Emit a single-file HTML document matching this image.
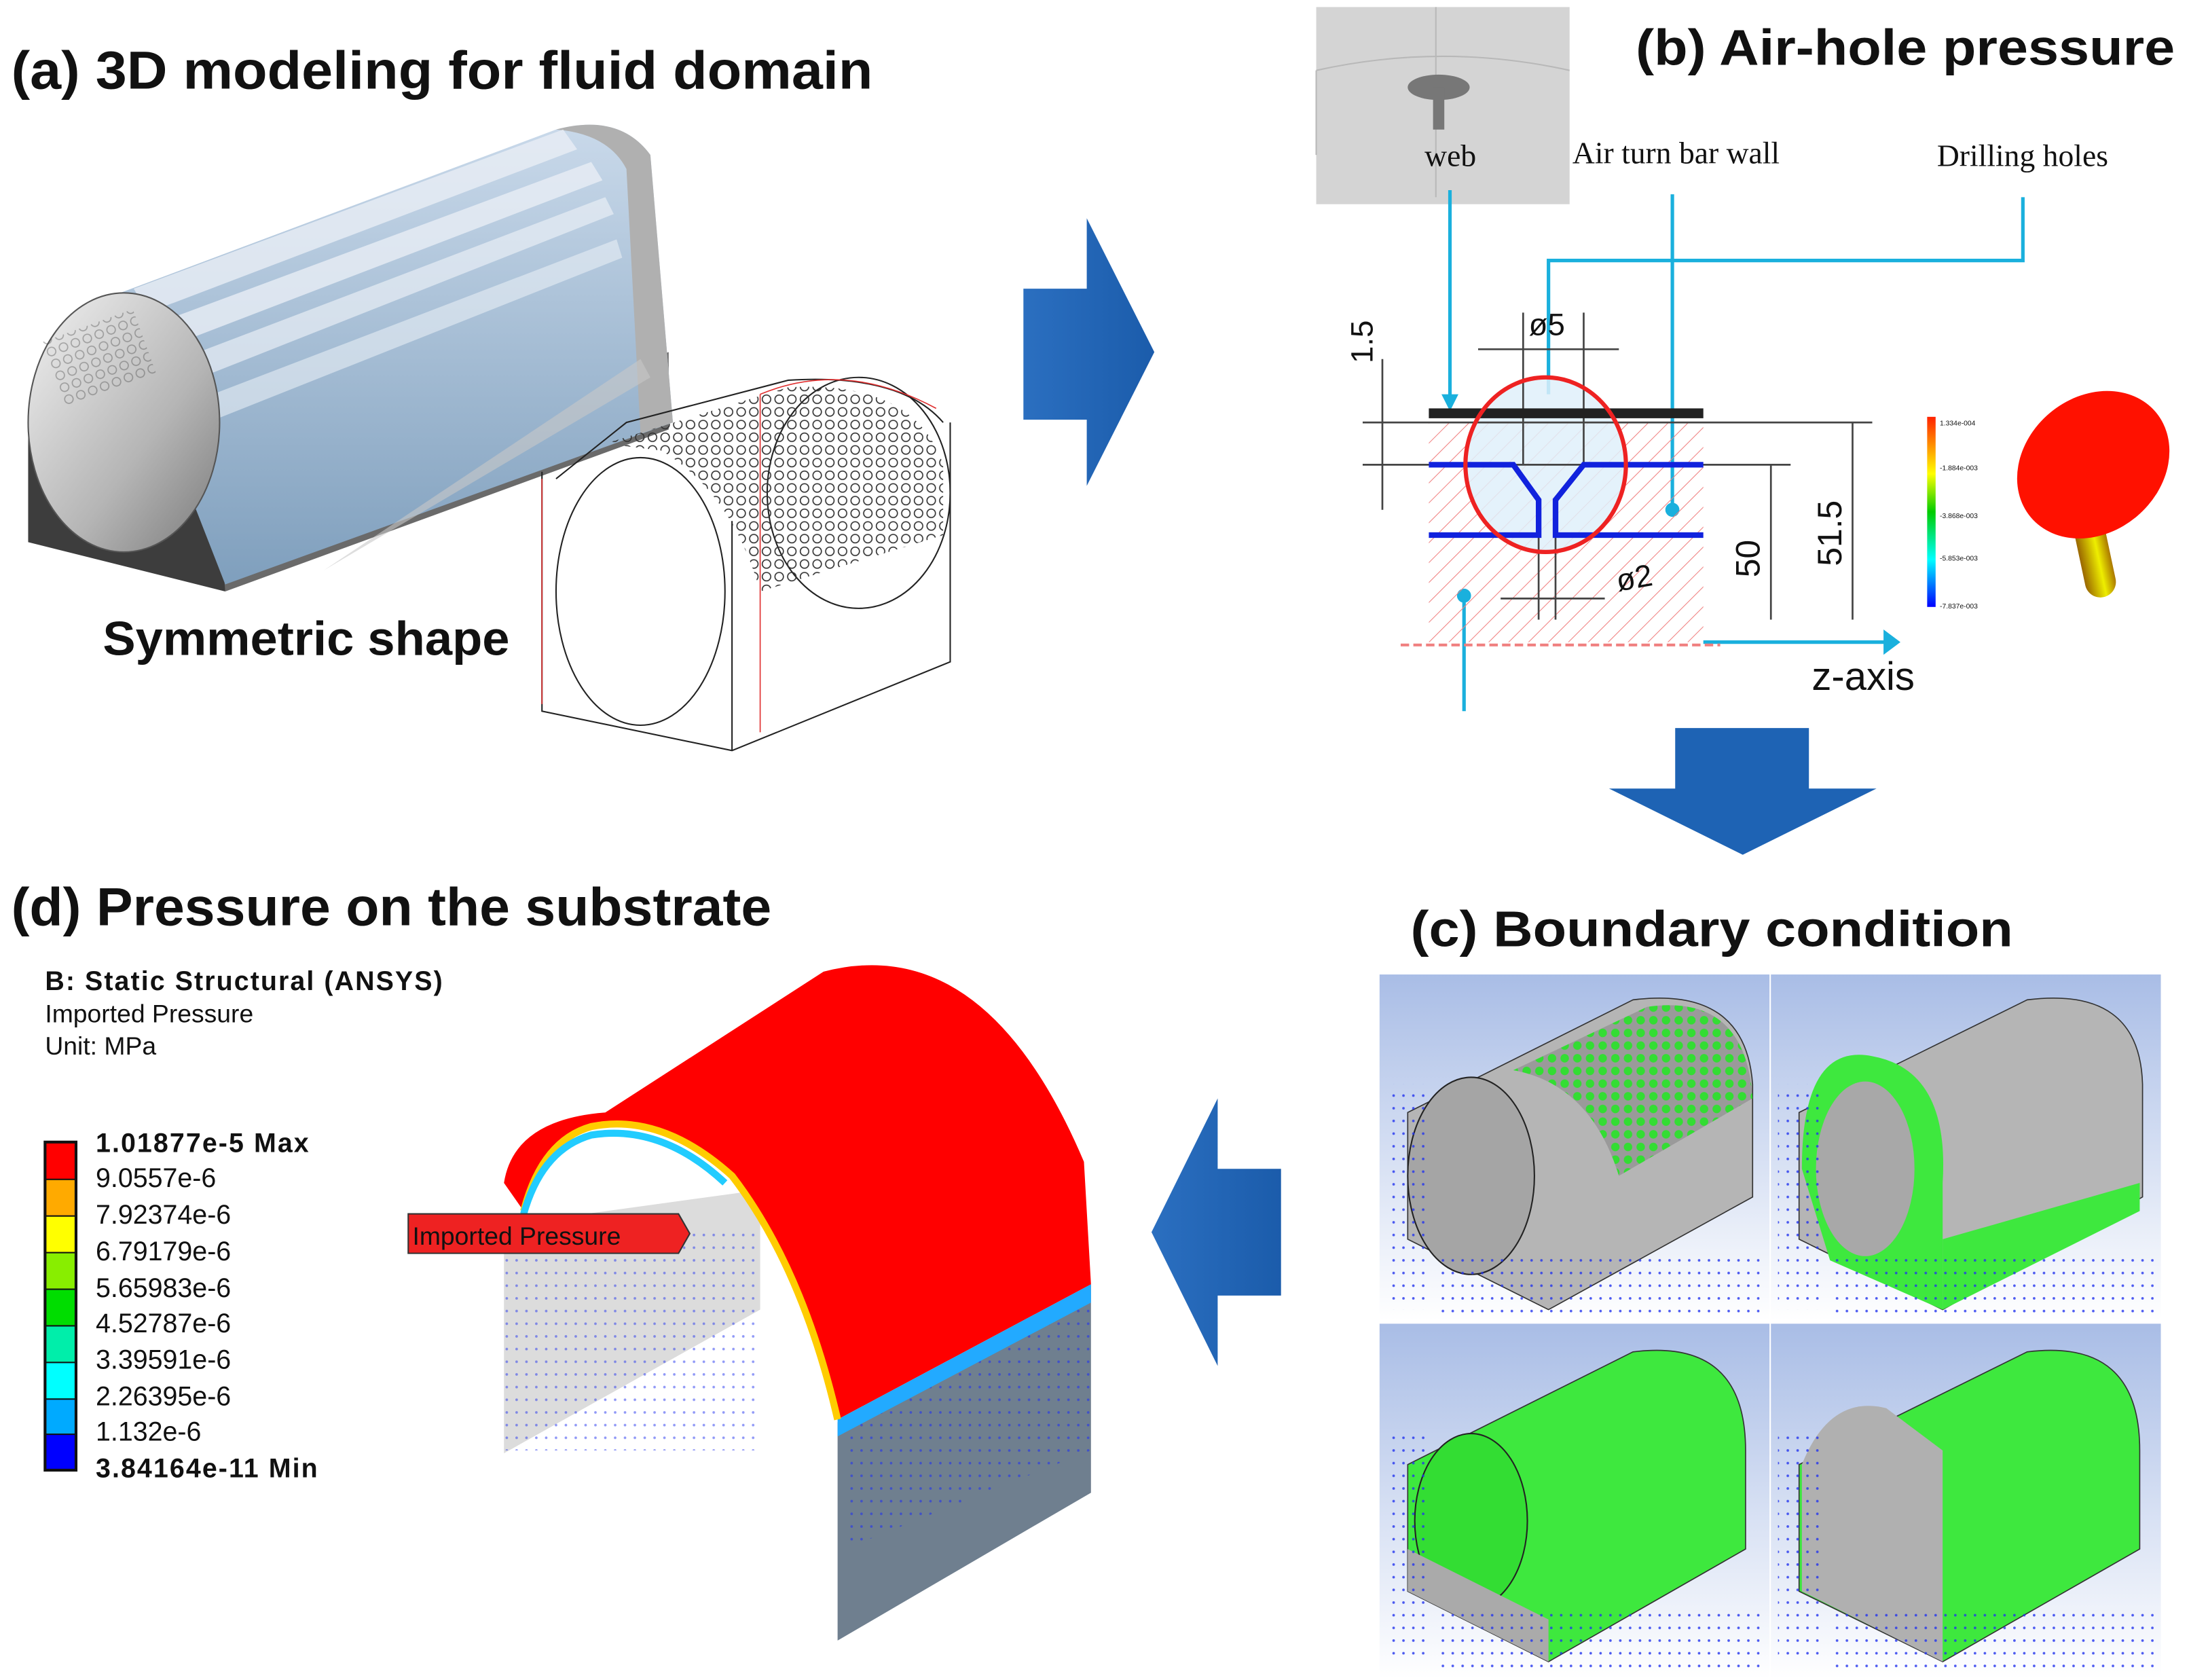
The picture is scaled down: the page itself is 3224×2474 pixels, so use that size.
<!DOCTYPE html>
<html><head><meta charset="utf-8">
<style>
html,body{margin:0;padding:0;background:#fff;}
svg{display:block;}
.t{font-family:"Liberation Sans",sans-serif;font-weight:bold;fill:#111;}
.s{font-family:"Liberation Serif",serif;fill:#111;}
.m{font-family:"Liberation Sans",sans-serif;fill:#111;}
</style></head><body>
<svg width="3224" height="2474" viewBox="0 0 1555 1193" preserveAspectRatio="none" xmlns="http://www.w3.org/2000/svg">
<defs>
<linearGradient id="cap" x1="0" y1="0" x2="1" y2="1"><stop offset="0" stop-color="#f2f2f2"/><stop offset="0.6" stop-color="#b5b5b5"/><stop offset="1" stop-color="#7a7a7a"/></linearGradient>
<linearGradient id="body" x1="0" y1="0" x2="0" y2="1"><stop offset="0" stop-color="#c9d9ea"/><stop offset="1" stop-color="#7f9fbd"/></linearGradient>
<linearGradient id="bg" x1="0" y1="0" x2="0" y2="1"><stop offset="0" stop-color="#a9bde6"/><stop offset="1" stop-color="#ffffff"/></linearGradient>
<linearGradient id="arrow" x1="0" y1="0" x2="1" y2="0"><stop offset="0" stop-color="#2b6fc0"/><stop offset="1" stop-color="#1b5cab"/></linearGradient>
<linearGradient id="cb" x1="0" y1="0" x2="0" y2="1"><stop offset="0" stop-color="#ff2200"/><stop offset="0.3" stop-color="#ffff00"/><stop offset="0.5" stop-color="#00cc00"/><stop offset="0.75" stop-color="#00ffff"/><stop offset="1" stop-color="#0000ff"/></linearGradient>
<linearGradient id="stem" x1="0" y1="0" x2="1" y2="0"><stop offset="0" stop-color="#996600"/><stop offset="0.6" stop-color="#eeee00"/><stop offset="1" stop-color="#aa7700"/></linearGradient>
<pattern id="holes" width="9" height="9" patternUnits="userSpaceOnUse"><circle cx="4.5" cy="4.5" r="3" fill="none" stroke="#333" stroke-width="0.8"/></pattern>
<pattern id="gholes" width="9" height="9" patternUnits="userSpaceOnUse"><rect width="9" height="9" fill="#9a9a9a"/><circle cx="4.5" cy="4.5" r="3" fill="#33dd33"/></pattern>
<pattern id="hatch" width="10" height="10" patternUnits="userSpaceOnUse" patternTransform="rotate(45)"><line x1="0" y1="0" x2="0" y2="10" stroke="#f08080" stroke-width="1"/></pattern>
<pattern id="dots" width="7" height="9" patternUnits="userSpaceOnUse"><circle cx="3" cy="4" r="0.9" fill="#2233ee"/></pattern>
</defs>

<!-- (a) -->
<text class="t" x="8" y="63" font-size="38" textLength="612" lengthAdjust="spacingAndGlyphs">(a) 3D modeling for fluid domain</text>
<polygon points="20,290 160,360 160,420 20,385" fill="#3d3d3d"/>
<polygon points="155,360 475,250 475,305 160,420" fill="#6a6a6a"/>
<path d="M80,210 L395,92 Q440,80 462,110 L478,300 L160,415 Z" fill="url(#body)"/>
<path d="M395,92 Q440,80 462,110 L478,300 L455,308 L445,120 Q432,95 395,92Z" fill="#b0b0b0"/>
<path d="M95,205 L400,92 L410,106 L105,222Z" fill="#e8eef5" opacity="0.8"/>
<path d="M105,232 L420,115 L428,128 L115,248Z" fill="#e8eef5" opacity="0.8"/>
<path d="M115,260 L430,140 L436,152 L125,275Z" fill="#e8eef5" opacity="0.7"/>
<path d="M125,290 L438,170 L442,183 L135,305Z" fill="#e8eef5" opacity="0.6"/>
<path d="M230,405 L455,255 L462,268Z" fill="#c8c8c8" opacity="0.6"/>
<ellipse cx="88" cy="300" rx="68" ry="92" fill="url(#cap)" stroke="#555" stroke-width="1"/>
<rect x="35" y="230" width="70" height="50" fill="url(#holes)" opacity="0.35" transform="rotate(-20 70 255)"/>
<text class="t" x="73" y="465" font-size="34" textLength="289" lengthAdjust="spacingAndGlyphs">Symmetric shape</text>
<g fill="none" stroke="#222" stroke-width="1">
<polyline points="385,335 385,505 520,533 675,470 675,300"/>
<line x1="520" y1="533" x2="520" y2="370"/>
<ellipse cx="455" cy="420" rx="60" ry="95"/>
<ellipse cx="610" cy="350" rx="65" ry="82"/>
<path d="M395,340 Q420,320 445,300 L560,270 Q640,265 670,300"/>
</g>
<g fill="none" stroke="#e03030" stroke-width="0.8"><line x1="385" y1="340" x2="385" y2="500"/><line x1="540" y1="280" x2="540" y2="520"/><path d="M540,280 Q600,255 665,290"/></g>
<path d="M430,315 L560,275 Q650,270 670,330 L670,380 L540,420 Q520,350 470,320 Z" fill="url(#holes)"/>

<!-- arrows -->
<polygon points="727,205 772,205 772,155 820,250 772,345 772,298 727,298" fill="url(#arrow)"/>
<polygon points="1190,517 1285,517 1285,560 1333,560 1238,607 1143,560 1190,560" fill="#1e63b4"/>
<polygon points="910,830 865,830 865,780 818,875 865,970 865,920 910,920" fill="url(#arrow)"/>

<!-- (b) -->
<text class="t" x="1162" y="46" font-size="36" textLength="383" lengthAdjust="spacingAndGlyphs">(b) Air-hole pressure</text>
<rect x="935" y="5" width="180" height="140" fill="#d4d4d4"/>
<path d="M935,50 Q1025,30 1115,50 M935,50 L935,110 M1020,5 L1020,140" stroke="#b8b8b8" fill="none"/>
<ellipse cx="1022" cy="62" rx="22" ry="9" fill="#777"/>
<rect x="1018" y="62" width="8" height="30" fill="#777"/>
<text class="s" x="1012" y="118" font-size="22">web</text>
<text class="s" x="1117" y="116" font-size="22">Air turn bar wall</text>
<text class="s" x="1376" y="118" font-size="22">Drilling holes</text>
<g stroke="#1ab0dd" stroke-width="2.5" fill="none">
<line x1="1030" y1="135" x2="1030" y2="285"/>
<polyline points="1100,280 1100,185 1437,185 1437,140"/>
<line x1="1188" y1="138" x2="1188" y2="360"/>
<line x1="1040" y1="425" x2="1040" y2="505"/>
<line x1="1210" y1="456" x2="1340" y2="456"/>
</g>
<polygon points="1024,280 1036,280 1030,292" fill="#1ab0dd"/>
<polygon points="1338,447 1350,456 1338,465" fill="#1ab0dd"/>
<circle cx="1188" cy="362" r="5" fill="#1ab0dd"/><circle cx="1040" cy="423" r="5" fill="#1ab0dd"/>
<rect x="1015" y="300" width="195" height="156" fill="url(#hatch)"/>
<ellipse cx="1098" cy="330" rx="57" ry="62" fill="#dff0fa" opacity="0.85"/>
<g stroke="#444" stroke-width="1.3" fill="none">
<line x1="968" y1="300" x2="1330" y2="300"/>
<line x1="968" y1="330" x2="1272" y2="330"/>
<line x1="982" y1="255" x2="982" y2="362"/>
<line x1="1258" y1="330" x2="1258" y2="440"/>
<line x1="1316" y1="300" x2="1316" y2="440"/>
<line x1="1082" y1="222" x2="1082" y2="330"/><line x1="1125" y1="222" x2="1125" y2="330"/>
<line x1="1050" y1="248" x2="1150" y2="248"/>
<line x1="1066" y1="425" x2="1140" y2="425"/>
<line x1="1093" y1="380" x2="1093" y2="440"/><line x1="1105" y1="380" x2="1105" y2="440"/>
</g>
<rect x="1015" y="290" width="195" height="7" fill="#222"/>
<g stroke="#1122dd" stroke-width="4" fill="none">
<polyline points="1015,330 1075,330 1093,355 1093,380 1015,380"/>
<polyline points="1210,330 1125,330 1105,355 1105,380 1210,380"/>
</g>
<ellipse cx="1098" cy="330" rx="57" ry="62" fill="none" stroke="#ee2222" stroke-width="3"/>
<line x1="995" y1="458" x2="1222" y2="458" stroke="#f08080" stroke-width="2" stroke-dasharray="6,3"/>
<text class="m" font-size="22" transform="translate(975,258) rotate(-90)">1.5</text>
<text class="m" font-size="22" x="1086" y="238">ø5</text>
<text class="m" font-size="22" x="1148" y="418" transform="rotate(-10 1160 410)">ø2</text>
<text class="m" font-size="24" transform="translate(1250,410) rotate(-90)">50</text>
<text class="m" font-size="24" transform="translate(1308,402) rotate(-90)">51.5</text>
<text class="m" x="1287" y="490" font-size="28">z-axis</text>
<rect x="1369" y="296" width="6" height="135" fill="url(#cb)"/>
<g class="m" font-size="5" fill="#555"><text x="1378" y="302">1.334e-004</text><text x="1378" y="334">-1.884e-003</text><text x="1378" y="368">-3.868e-003</text><text x="1378" y="398">-5.853e-003</text><text x="1378" y="432">-7.837e-003</text></g>
<rect x="1474" y="340" width="22" height="85" rx="11" fill="url(#stem)" transform="rotate(-12 1485 380)"/>
<ellipse cx="1487" cy="330" rx="58" ry="48" fill="#ff1100" transform="rotate(-40 1487 330)"/>

<!-- (c) -->
<text class="t" x="1002" y="672" font-size="36" textLength="428" lengthAdjust="spacingAndGlyphs">(c) Boundary condition</text>
<rect x="980" y="692" width="277" height="246" fill="url(#bg)"/>
<rect x="1258" y="692" width="277" height="246" fill="url(#bg)"/>
<rect x="980" y="940" width="277" height="252" fill="url(#bg)"/>
<rect x="1258" y="940" width="277" height="252" fill="url(#bg)"/>
<g>
<path d="M1000,790 L1160,710 Q1240,700 1245,770 L1245,850 L1100,930 L1000,880 Z" fill="#b5b5b5" stroke="#333" stroke-width="0.8"/>
<ellipse cx="1045" cy="835" rx="45" ry="70" fill="#a5a5a5" stroke="#222" stroke-width="1"/>
<path d="M1075,760 L1170,715 Q1240,705 1245,780 L1150,835 Q1130,770 1075,760Z" fill="url(#gholes)"/>
</g>
<g>
<path d="M1278,790 L1440,710 Q1520,700 1522,770 L1522,850 L1380,930 L1278,880 Z" fill="#b5b5b5" stroke="#333" stroke-width="0.8"/>
<path d="M1280,830 Q1280,740 1330,750 Q1385,760 1380,840 L1380,930 L1300,895 Z" fill="#3ee83e"/>
<ellipse cx="1325" cy="830" rx="35" ry="62" fill="#a8a8a8"/>
<polygon points="1380,880 1520,840 1520,860 1380,930" fill="#3ee83e"/>
</g>
<g>
<path d="M1000,1040 L1160,960 Q1240,950 1240,1030 L1240,1100 L1100,1180 L1000,1130 Z" fill="#3ee83e" stroke="#333" stroke-width="0.8"/>
<ellipse cx="1045" cy="1080" rx="40" ry="62" fill="#33dd33" stroke="#222"/>
<polygon points="1000,1100 1100,1150 1100,1180 1000,1130" fill="#aaa"/>
</g>
<g>
<path d="M1278,1040 L1440,960 Q1520,950 1520,1030 L1520,1100 L1380,1180 L1278,1130 Z" fill="#3ee83e" stroke="#333" stroke-width="0.8"/>
<path d="M1280,1040 Q1300,990 1340,1000 L1380,1030 L1380,1180 L1280,1130 Z" fill="#b0b0b0"/>
</g>
<g fill="url(#dots)" opacity="0.8"><rect x="985" y="770" width="30" height="160"/><rect x="1263" y="770" width="30" height="160"/><rect x="985" y="1020" width="30" height="160"/><rect x="1263" y="1020" width="30" height="160"/><rect x="1020" y="890" width="230" height="45"/><rect x="1300" y="890" width="230" height="45"/><rect x="1020" y="1140" width="230" height="45"/><rect x="1300" y="1140" width="230" height="45"/></g>

<!-- (d) -->
<text class="t" x="8" y="657" font-size="38" textLength="540" lengthAdjust="spacingAndGlyphs">(d) Pressure on the substrate</text>
<text class="m" x="32" y="703" font-size="19" font-weight="bold" letter-spacing="1">B: Static Structural (ANSYS)</text>
<text class="m" x="32" y="726" font-size="18">Imported Pressure</text>
<text class="m" x="32" y="749" font-size="18">Unit: MPa</text>
<rect x="31" y="810" width="24" height="235" fill="#111"/>
<rect x="33" y="812" width="20" height="25" fill="#ff0000"/>
<rect x="33" y="838" width="20" height="25" fill="#ffaa00"/>
<rect x="33" y="864" width="20" height="25" fill="#ffff00"/>
<rect x="33" y="890" width="20" height="25" fill="#88ee00"/>
<rect x="33" y="916" width="20" height="25" fill="#00dd00"/>
<rect x="33" y="942" width="20" height="25" fill="#00eeaa"/>
<rect x="33" y="968" width="20" height="25" fill="#00ffff"/>
<rect x="33" y="994" width="20" height="24" fill="#00aaff"/>
<rect x="33" y="1019" width="20" height="24" fill="#0000ff"/>
<g class="m" font-size="19">
<text x="68" y="818" font-weight="bold" letter-spacing="1">1.01877e-5 Max</text>
<text x="68" y="843">9.0557e-6</text>
<text x="68" y="869">7.92374e-6</text>
<text x="68" y="895">6.79179e-6</text>
<text x="68" y="921">5.65983e-6</text>
<text x="68" y="946">4.52787e-6</text>
<text x="68" y="972">3.39591e-6</text>
<text x="68" y="998">2.26395e-6</text>
<text x="68" y="1023">1.132e-6</text>
<text x="68" y="1049" font-weight="bold" letter-spacing="1">3.84164e-11 Min</text>
</g>
<polygon points="358,870 540,845 540,930 358,1032" fill="#dcdcdc"/>
<rect x="358" y="870" width="182" height="160" fill="url(#dots)" opacity="0.5"/>
<polygon points="595,1010 775,912 775,1060 595,1165" fill="#6f7f8f"/>
<polygon points="600,1010 775,915 775,1030 600,1100" fill="url(#dots)" opacity="0.6"/>
<path d="M358,840 Q365,795 430,790 L585,690 Q700,660 770,825 L775,912 L595,1008 Q570,900 520,835 Q470,790 420,800 Q385,810 372,860 Z" fill="#ff0000"/>
<path d="M595,1008 L775,912 L775,925 L595,1020 Z" fill="#22aaff"/>
<path d="M372,860 Q385,810 420,800 Q470,790 520,835 Q570,900 595,1008" fill="none" stroke="#ffcc00" stroke-width="5"/>
<path d="M372,862 Q385,816 420,806 Q470,798 515,840" fill="none" stroke="#22ccff" stroke-width="5"/>
<polygon points="290,862 482,862 490,876 482,890 290,890" fill="#ee2222" stroke="#333" stroke-width="1"/>
<text class="m" x="293" y="884" font-size="18" fill="#fff">Imported Pressure</text>
</svg>
</body></html>
